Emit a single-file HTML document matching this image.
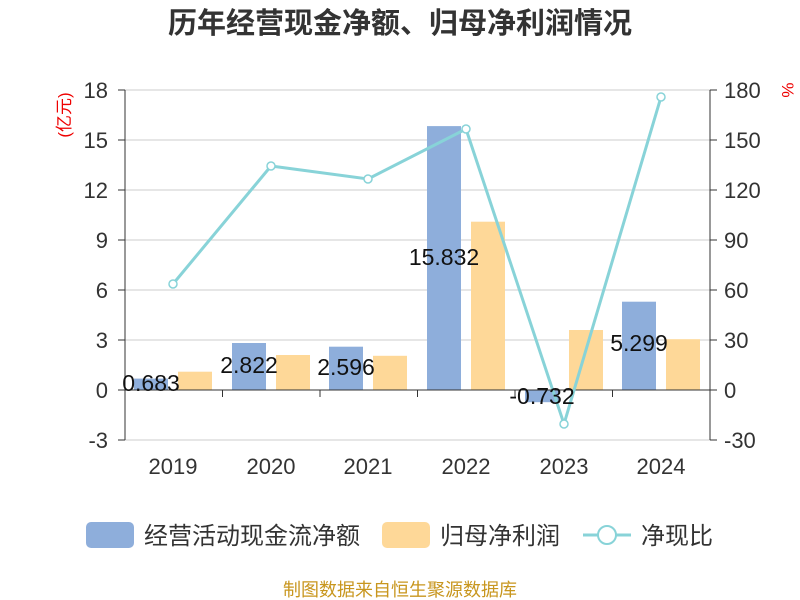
<!DOCTYPE html>
<html><head><meta charset="utf-8"><style>body{margin:0;background:#fff}svg{display:block}text{font-family:"Liberation Sans","Noto Sans CJK SC",sans-serif}</style></head><body>
<svg width="800" height="600" viewBox="0 0 800 600">
<text x="400" y="33" text-anchor="middle" font-size="29" font-weight="bold" fill="#333">历年经营现金净额、归母净利润情况</text>
<g stroke="#ccc" stroke-width="1">
<line x1="125" x2="710" y1="90" y2="90"/><line x1="125" x2="710" y1="140" y2="140"/><line x1="125" x2="710" y1="190" y2="190"/><line x1="125" x2="710" y1="240" y2="240"/><line x1="125" x2="710" y1="290" y2="290"/><line x1="125" x2="710" y1="340" y2="340"/><line x1="125" x2="710" y1="440" y2="440"/>
</g>
<g fill="#333" font-size="22" text-anchor="end">
<text x="108" y="98">18</text><text x="108" y="148">15</text><text x="108" y="198">12</text><text x="108" y="248">9</text><text x="108" y="298">6</text><text x="108" y="348">3</text><text x="108" y="398">0</text><text x="108" y="448">-3</text>
</g>
<g fill="#333" font-size="22" text-anchor="start">
<text x="724" y="98">180</text><text x="724" y="148">150</text><text x="724" y="198">120</text><text x="724" y="248">90</text><text x="724" y="298">60</text><text x="724" y="348">30</text><text x="724" y="398">0</text><text x="724" y="448">-30</text>
</g>
<text transform="translate(70,115) rotate(-90)" text-anchor="middle" font-size="17" fill="#e00">(亿元)</text>
<text transform="translate(782,90) rotate(90)" text-anchor="middle" font-size="17" fill="#e00">%</text>
<g stroke="#333" stroke-width="1">
<line x1="125" x2="125" y1="90" y2="440"/><line x1="710" x2="710" y1="90" y2="440"/>
<line x1="118" x2="125" y1="90" y2="90"/><line x1="118" x2="125" y1="140" y2="140"/><line x1="118" x2="125" y1="190" y2="190"/><line x1="118" x2="125" y1="240" y2="240"/><line x1="118" x2="125" y1="290" y2="290"/><line x1="118" x2="125" y1="340" y2="340"/><line x1="118" x2="125" y1="390" y2="390"/><line x1="118" x2="125" y1="440" y2="440"/>
<line x1="710" x2="717" y1="90" y2="90"/><line x1="710" x2="717" y1="140" y2="140"/><line x1="710" x2="717" y1="190" y2="190"/><line x1="710" x2="717" y1="240" y2="240"/><line x1="710" x2="717" y1="290" y2="290"/><line x1="710" x2="717" y1="340" y2="340"/><line x1="710" x2="717" y1="390" y2="390"/><line x1="710" x2="717" y1="440" y2="440"/>
</g>
<g fill="#8eaedb">
<rect x="134" y="378.6" width="34" height="11.4"/>
<rect x="232" y="343" width="34" height="47"/>
<rect x="329" y="346.7" width="34" height="43.3"/>
<rect x="427" y="126.1" width="34" height="263.9"/>
<rect x="525" y="390" width="34" height="12.2"/>
<rect x="622" y="301.7" width="34" height="88.3"/>
</g>
<g fill="#fed898">
<rect x="178" y="371.7" width="34" height="18.3"/>
<rect x="276" y="355" width="34" height="35"/>
<rect x="373" y="355.8" width="34" height="34.2"/>
<rect x="471" y="221.7" width="34" height="168.3"/>
<rect x="569" y="330" width="34" height="60"/>
<rect x="666" y="339.2" width="34" height="50.8"/>
</g>
<g stroke="#333" stroke-width="1">
<line x1="125" x2="710" y1="390" y2="390"/>
<line x1="222.5" x2="222.5" y1="390" y2="397"/><line x1="320" x2="320" y1="390" y2="397"/><line x1="417.5" x2="417.5" y1="390" y2="397"/><line x1="515" x2="515" y1="390" y2="397"/><line x1="612.5" x2="612.5" y1="390" y2="397"/>
</g>
<polyline points="173,284 271,166 368,179 466,129 564,424 661,97" fill="none" stroke="#88d3d8" stroke-width="3"/>
<g fill="#fff" stroke="#88d3d8" stroke-width="1.5">
<circle cx="173" cy="284" r="4"/><circle cx="271" cy="166" r="4"/><circle cx="368" cy="179" r="4"/><circle cx="466" cy="129" r="4"/><circle cx="564" cy="424" r="4"/><circle cx="661" cy="97" r="4"/>
</g>
<g fill="#111" font-size="23" text-anchor="middle">
<text x="151" y="391">0.683</text><text x="249" y="373">2.822</text><text x="346" y="375">2.596</text><text x="444" y="265">15.832</text><text x="542" y="404">-0.732</text><text x="639" y="351">5.299</text>
</g>
<g fill="#333" font-size="22" text-anchor="middle">
<text x="173" y="474">2019</text><text x="271" y="474">2020</text><text x="368" y="474">2021</text><text x="466" y="474">2022</text><text x="564" y="474">2023</text><text x="661" y="474">2024</text>
</g>
<rect x="86" y="522" width="48" height="26" rx="5" fill="#8eaedb"/>
<text x="144" y="544" font-size="24" fill="#333">经营活动现金流净额</text>
<rect x="382" y="522" width="48" height="26" rx="5" fill="#fed898"/>
<text x="440" y="544" font-size="24" fill="#333">归母净利润</text>
<line x1="583" x2="631" y1="535" y2="535" stroke="#88d3d8" stroke-width="3"/>
<circle cx="607" cy="535" r="9" fill="#fff" stroke="#88d3d8" stroke-width="2"/>
<text x="641" y="544" font-size="24" fill="#333">净现比</text>
<text x="400" y="596" text-anchor="middle" font-size="18" fill="#c8961e">制图数据来自恒生聚源数据库</text>
</svg>
</body></html>
